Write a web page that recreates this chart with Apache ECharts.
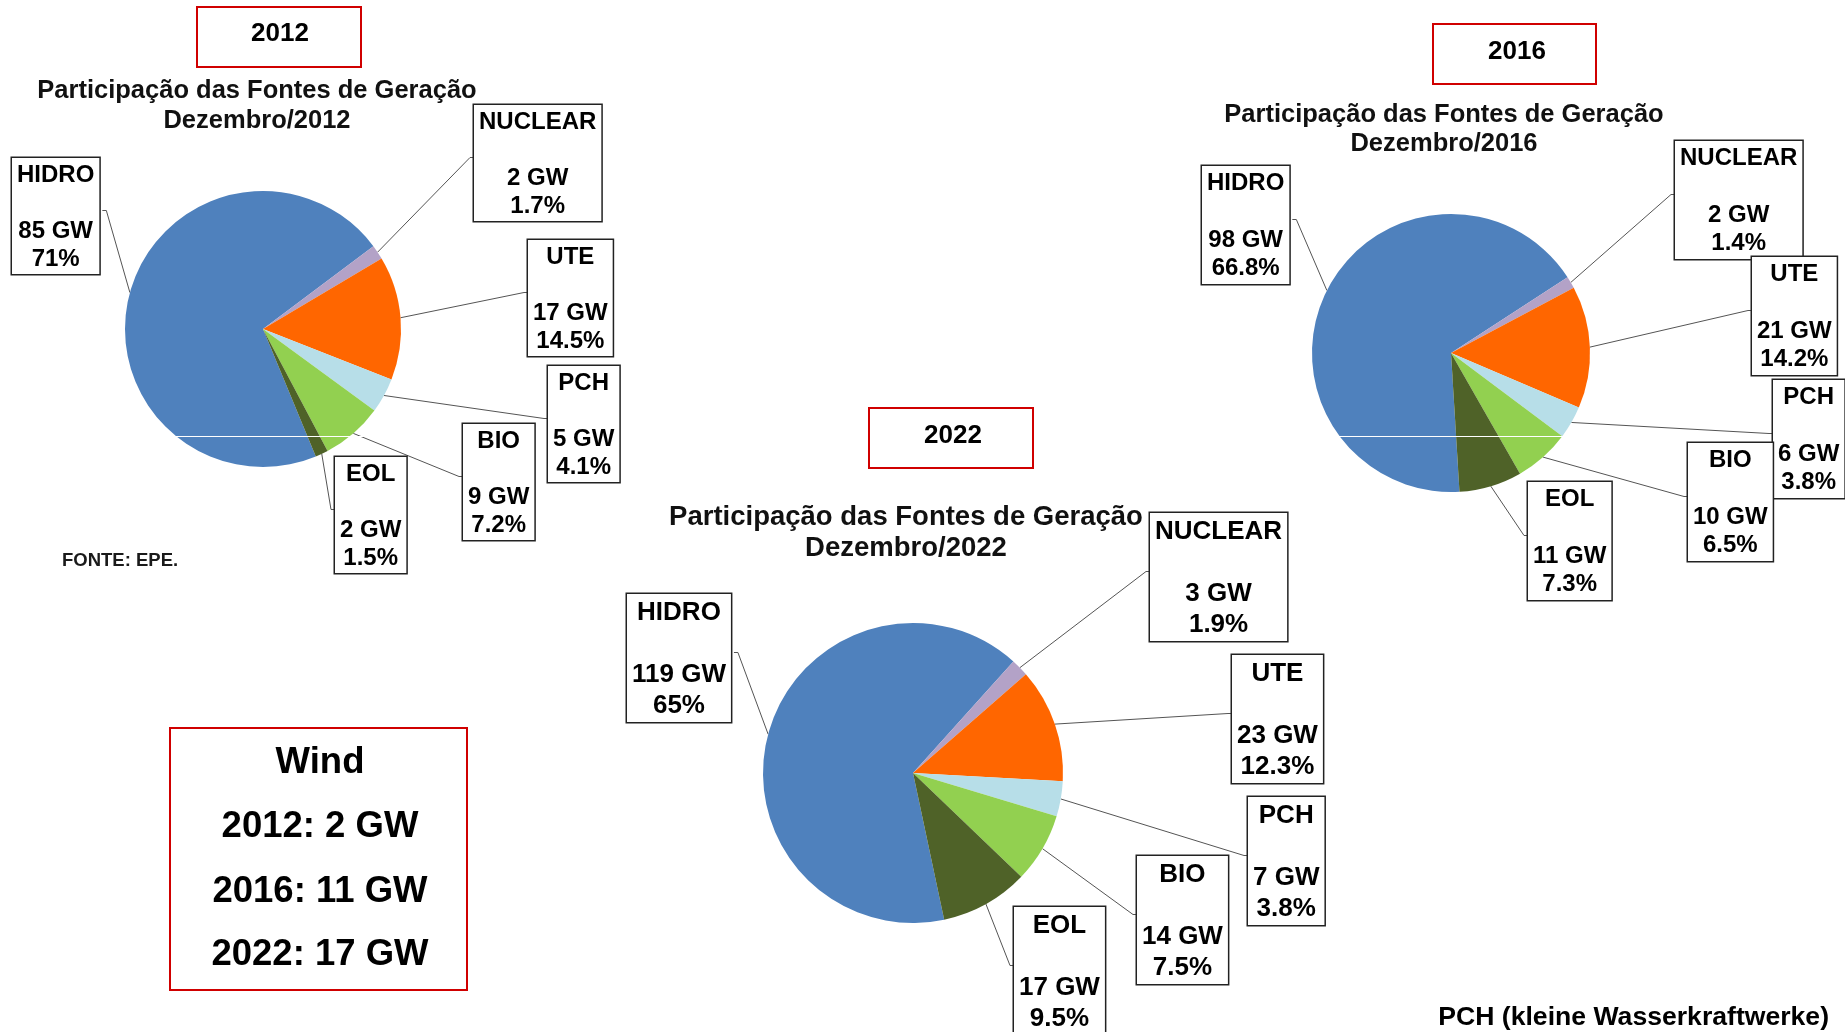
<!DOCTYPE html>
<html>
<head>
<meta charset="utf-8">
<title>Participação das Fontes de Geração</title>
<script src="https://cdn.jsdelivr.net/npm/echarts@6/dist/echarts.min.js"></script>
<style>
  html, body { margin: 0; padding: 0; background: #fff; }
  #main { width: 1845px; height: 1032px; }
</style>
</head>
<body>
<div id="main"></div>
<script>
// fontes de geração, mesma ordem em todos os anos (sentido horário)
const sources = ['HIDRO', 'NUCLEAR', 'UTE', 'PCH', 'BIO', 'EOL'];
const colors = ['#4f81bd', '#b3a2c7', '#ff6600', '#b7dee8', '#92d050', '#4f6228'];
const years = ['2012', '2016', '2022'];

const gw2012 = [85, 2, 17, 5, 9, 2];
const share2012 = [71, 1.7, 14.5, 4.1, 7.2, 1.5];
const gw2016 = [98, 2, 21, 6, 10, 11];
const share2016 = [66.8, 1.4, 14.2, 3.8, 6.5, 7.3];
const gw2022 = [119, 3, 23, 7, 14, 17];
const share2022 = [65, 1.9, 12.3, 3.8, 7.5, 9.5];

const FONT = '"Liberation Sans", Arial, Helvetica, sans-serif';

// posição de cada gráfico e das caixas de rótulo
const charts = [
  {
    year: years[0], gw: gw2012, share: share2012,
    center: [263, 329], radius: 138, startAngle: 292.5,
    fontSize: 24, lineHeight: 28,
    title: [257, 106], titleSize: 25.5, titleLh: 30,
    yearBox: [197, 7, 164, 60], yearText: [280, 34],
    boxes: [[12, 158, 'right'], [474, 105, 'left'], [528, 240, 'left'],
      [548, 366, 'left'], [463, 424, 'left'], [335, 457, 'left']],
  },
  {
    year: years[1], gw: gw2016, share: share2016,
    center: [1451, 353], radius: 139, startAngle: 273.5,
    fontSize: 24, lineHeight: 28.5,
    title: [1444, 129.5], titleSize: 25.5, titleLh: 29.5,
    yearBox: [1433, 24, 163, 60], yearText: [1517, 52],
    boxes: [[1202, 166, 'right'], [1675, 141, 'left'], [1752, 257, 'left'],
      [1773, 380, 'left'], [1688, 443, 'left'], [1528, 482, 'left']],
  },
  {
    year: years[2], gw: gw2022, share: share2022,
    center: [913, 773], radius: 150, startAngle: 282,
    fontSize: 26, lineHeight: 31,
    title: [906, 532.5], titleSize: 27.5, titleLh: 31,
    yearBox: [869, 408, 164, 60], yearText: [953, 436],
    boxes: [[627, 594, 'right'], [1150, 513, 'left'], [1232, 655, 'left'],
      [1248, 797, 'left'], [1137, 856, 'left'], [1014, 907, 'left']],
  },
];

const myChart = echarts.init(document.getElementById('main'));

const series = charts.map((c) => {
  const txt = {
    fontSize: c.fontSize, lineHeight: c.lineHeight, fontWeight: 'bold',
    fontFamily: FONT, color: '#000', align: 'center',
  };
  return {
    type: 'pie',
    center: c.center,
    radius: c.radius,
    startAngle: c.startAngle,
    clockwise: true,
    avoidLabelOverlap: false,
    animation: false,
    emphasis: { disabled: true },
    data: sources.map((name, i) => ({ name, value: c.share[i], itemStyle: { color: colors[i] } })),
    label: {
      show: true,
      position: 'outside',
      formatter: (p) => `{t|${p.name}}\n{t| }\n{t|${c.gw[p.dataIndex]} GW}\n{t|${c.share[p.dataIndex]}%}`,
      backgroundColor: '#fff',
      borderColor: '#222',
      borderWidth: 1.5,
      padding: [3, 5, 1, 5],
      fontSize: c.fontSize,
      lineHeight: c.lineHeight,
      fontWeight: 'bold',
      fontFamily: FONT,
      color: '#000',
      rich: { t: txt },
    },
    labelLine: {
      show: true, length: 10, length2: 5,
      lineStyle: { color: '#555', width: 1 },
    },
    labelLayout: (p) => {
      const b = c.boxes[p.dataIndex];
      const w = p.labelRect.width;
      const h = p.labelRect.height;
      const ex = b[2] === 'right' ? b[0] + w : b[0];
      const ey = b[1] + h / 2 - 7;
      const mx = b[2] === 'right' ? ex + 4 : ex - 4;
      const res = { x: b[0], y: b[1], align: 'left', verticalAlign: 'top' };
      if (p.labelLinePoints) {
        res.labelLinePoints = [p.labelLinePoints[0], [mx, ey], [ex, ey]];
      }
      return res;
    },
  };
});

const graphics = [];
charts.forEach((c) => {
  graphics.push({
    type: 'rect',
    shape: { x: c.yearBox[0], y: c.yearBox[1], width: c.yearBox[2], height: c.yearBox[3] },
    style: { fill: '#fff', stroke: '#d00000', lineWidth: 2 },
  });
  graphics.push({
    type: 'text', x: c.yearText[0], y: c.yearText[1],
    style: {
      text: c.year, fill: '#000', font: `bold 26px ${FONT}`,
      textAlign: 'center', textVerticalAlign: 'middle',
    },
  });
  graphics.push({
    type: 'text', x: c.title[0], y: c.title[1],
    style: {
      text: `Participação das Fontes de Geração\nDezembro/${c.year}`,
      fill: '#111', font: `bold ${c.titleSize}px ${FONT}`, lineHeight: c.titleLh,
      textAlign: 'center', textVerticalAlign: 'middle',
    },
  });
});

// caixa com a evolução da eólica (EOL)
const eol = sources.indexOf('EOL');
const windLines = ['Wind'].concat(years.map((y, k) => `${y}: ${charts[k].gw[eol]} GW`));
graphics.push({
  type: 'rect',
  shape: { x: 170, y: 728, width: 297, height: 262 },
  style: { fill: 'none', stroke: '#d00000', lineWidth: 2 },
});
[763, 827, 892, 955].forEach((yy, k) => {
  graphics.push({
    type: 'text', x: 320, y: yy,
    style: {
      text: windLines[k], fill: '#000', font: `bold 36.5px ${FONT}`,
      textAlign: 'center', textVerticalAlign: 'middle',
    },
  });
});

graphics.push({
  type: 'text', x: 62, y: 561,
  style: { text: 'FONTE: EPE.', fill: '#1a1a1a', font: `bold 18.5px ${FONT}`, textVerticalAlign: 'middle' },
});
graphics.push({
  type: 'text', x: 1829, y: 1018,
  style: {
    text: 'PCH (kleine Wasserkraftwerke)', fill: '#000', font: `bold 26.6px ${FONT}`,
    textAlign: 'right', textVerticalAlign: 'middle',
  },
});

// linha branca que atravessa as imagens originais
graphics.push({ type: 'line', z: 100, shape: { x1: 120, y1: 436.5, x2: 410, y2: 436.5 }, style: { stroke: '#fff', lineWidth: 1 } });
graphics.push({ type: 'line', z: 100, shape: { x1: 1300, y1: 436.5, x2: 1600, y2: 436.5 }, style: { stroke: '#fff', lineWidth: 1 } });

const option = {
  backgroundColor: '#fff',
  animation: false,
  graphic: graphics,
  series,
};

myChart.setOption(option);
</script>
</body>
</html>
